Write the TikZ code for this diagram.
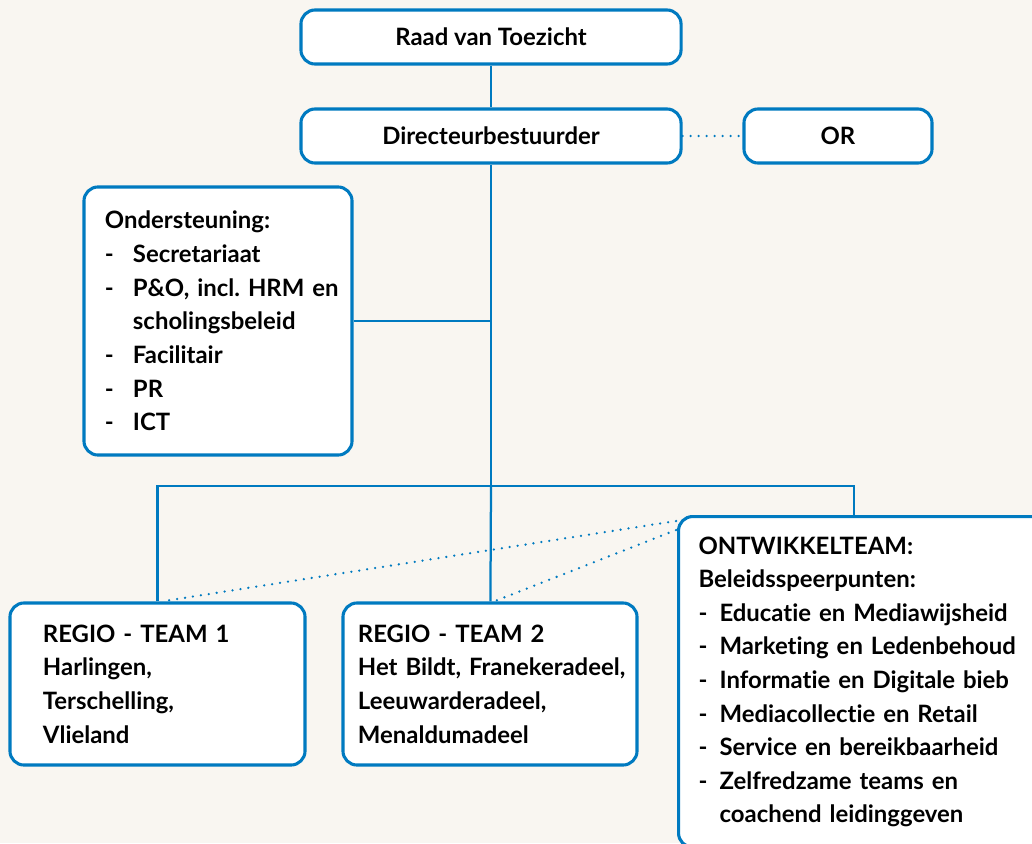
\documentclass[tikz,border=0pt]{standalone}
\usepackage{fontspec}
\setmainfont{Lato}[Ligatures=NoCommon]
\usetikzlibrary{positioning}
\definecolor{orgblauw}{RGB}{0,122,192}
\definecolor{achtergrond}{RGB}{249,246,241}

\tikzset{
  blok/.style={draw=orgblauw, line width=2.2pt, rounded corners=10pt, fill=white,
    font=\bfseries\fontsize{17}{23.9}\selectfont},
  lijn/.style={draw=orgblauw, line width=1.6pt},
  stippel/.style={draw=orgblauw, line width=1.8pt, line cap=round, dash pattern=on 0pt off 5.7pt}
}
\newcommand{\punt}[1][0.7cm]{\makebox[#1][l]{-}}
\newcommand{\inspring}[1][0.7cm]{\hspace*{#1}}
\frenchspacing

\begin{document}
\begin{tikzpicture}[x=0.025cm,y=-0.025cm]
\useasboundingbox (0,0) rectangle (1032,843);
\clip (0,0) rectangle (1032,843);
\fill [achtergrond] (0,0) rectangle (1032,843);

% bestuur
\node [blok, minimum width=9.5cm, minimum height=1.35cm] (raad) at (491,37) {Raad van Toezicht};
\node [blok, minimum width=9.5cm, minimum height=1.35cm] (dir) at (491,136) {Directeurbestuurder};
\node [blok, minimum width=4.7cm, minimum height=1.35cm] (or) at (838,136) {OR};

% staf
\node [blok, minimum width=6.7cm, minimum height=6.7cm, text width=5.65cm, inner xsep=0.525cm, align=left] (onder) at (218,321)
  {Ondersteuning:\\ \punt Secretariaat\\ \punt \mbox{P\&O, incl. HRM en}\\ \inspring scholingsbeleid\\ \punt Facilitair\\ \punt PR\\ \punt ICT};

% teams
\node [blok, minimum width=7.375cm, minimum height=4.05cm, text width=5.725cm, inner xsep=0.825cm, align=left] (team1) at (157.5,684)
  {REGIO - TEAM 1\\ Harlingen,\\ Terschelling,\\ Vlieland};
\node [blok, minimum width=7.35cm, minimum height=4.05cm, text width=6.6cm, inner xsep=0.375cm, align=left] (team2) at (490,684)
  {REGIO - TEAM 2\\ \mbox{Het Bildt, Franekeradeel,}\\ Leeuwarderadeel,\\ Menaldumadeel};
\node [blok, anchor=north west, text width=8.5cm, inner xsep=0.5cm, inner ysep=0.5cm, align=left] (ontw) at (677,515)
  {ONTWIKKELTEAM:\\ Beleidsspeerpunten:\\
   \punt[0.525cm]Educatie en Mediawijsheid\\
   \punt[0.525cm]Marketing en Ledenbehoud\\
   \punt[0.525cm]Informatie en Digitale bieb\\
   \punt[0.525cm]Mediacollectie en Retail\\
   \punt[0.525cm]Service en bereikbaarheid\\
   \punt[0.525cm]Zelfredzame teams en\\
   \inspring[0.525cm]coachend leidinggeven};

\coordinate (splits) at (491,486);
\coordinate (aftak) at (854,486);
\coordinate (s1) at (676,521);
\coordinate (s2) at (676,530);

\draw [lijn] (raad) -- (dir);
\draw [stippel] (dir.east) -- (or.west);
\draw [lijn] (dir) -- (splits);
\draw [lijn] (onder.east) -- (onder.east -| dir);
\draw [lijn] (team1.north) |- (aftak) -- (aftak |- ontw.north);
\draw [lijn] (splits) -- (team2);
\draw [stippel] (s1) -- ([xshift=0.1cm]team1.north);
\draw [stippel] (s2) -- ([xshift=0.1cm]team2.north);
\end{tikzpicture}
\end{document}
